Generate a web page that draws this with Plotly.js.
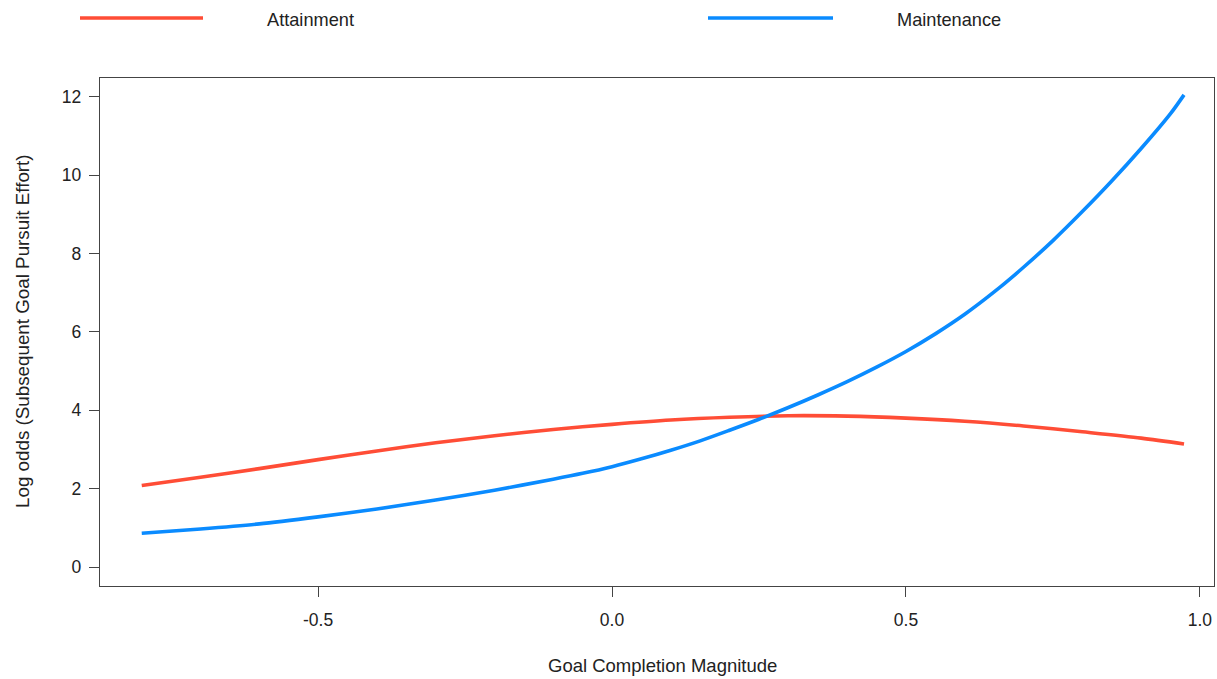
<!DOCTYPE html>
<html>
<head>
<meta charset="utf-8">
<script src="https://cdn.plot.ly/plotly-3.0.1.min.js"></script>
<style>
  html, body { margin: 0; padding: 0; background: #fff; }
  #chart { width: 1217px; height: 679px; }
</style>
</head>
<body>
<div id="chart"></div>
<script>
// Data
const attainmentX = [-0.80, -0.70, -0.60, -0.50, -0.40, -0.30, -0.20, -0.10, 0.00, 0.10, 0.20, 0.30, 0.40, 0.50, 0.60, 0.70, 0.80, 0.90, 0.973];
const attainmentY = [2.08, 2.29, 2.51, 2.74, 2.96, 3.17, 3.35, 3.51, 3.64, 3.75, 3.82, 3.86, 3.85, 3.80, 3.72, 3.60, 3.45, 3.29, 3.14];

const maintenanceX = [-0.80, -0.70, -0.60, -0.50, -0.40, -0.30, -0.20, -0.10, -0.05, 0.00, 0.05, 0.10, 0.15, 0.20, 0.25, 0.30, 0.35, 0.40, 0.45, 0.50, 0.55, 0.60, 0.65, 0.70, 0.75, 0.80, 0.85, 0.90, 0.95, 0.973];
const maintenanceY = [0.86, 0.97, 1.10, 1.28, 1.48, 1.71, 1.96, 2.24, 2.39, 2.56, 2.76, 2.98, 3.22, 3.49, 3.77, 4.07, 4.39, 4.73, 5.10, 5.50, 5.95, 6.45, 7.02, 7.65, 8.33, 9.07, 9.85, 10.68, 11.57, 12.05];

const seriesNames = ['Attainment', 'Maintenance'];
const seriesColors = ['#FF4D36', '#0A8BFF'];

const xTickVals = [-0.5, 0.0, 0.5, 1.0];
const xTickText = ['-0.5', '0.0', '0.5', '1.0'];
const yTickVals = [0, 2, 4, 6, 8, 10, 12];
const yTickText = ['0', '2', '4', '6', '8', '10', '12'];

const xTitle = 'Goal Completion Magnitude';
const yTitle = 'Log odds (Subsequent Goal Pursuit Effort)';

const FONT = 'Liberation Sans, Arial, sans-serif';

const traces = [
  {x: attainmentX, y: attainmentY, name: seriesNames[0], type: 'scatter', mode: 'lines',
   line: {color: seriesColors[0], width: 3.6, shape: 'spline', smoothing: 0.8}, showlegend: false},
  {x: maintenanceX, y: maintenanceY, name: seriesNames[1], type: 'scatter', mode: 'lines',
   line: {color: seriesColors[1], width: 3.6, shape: 'spline', smoothing: 0.8}, showlegend: false}
];

const axisCommon = {
  showgrid: false, zeroline: false,
  showline: true, mirror: true, linecolor: '#444', linewidth: 1.3,
  ticks: 'outside', ticklen: 10, tickwidth: 1, tickcolor: '#444',
  tickfont: {family: FONT, size: 17.5, color: '#222'}
};

const layout = {
  width: 1217, height: 679,
  margin: {l: 100, r: 3, t: 78, b: 93},
  paper_bgcolor: '#fff', plot_bgcolor: '#fff',
  font: {family: FONT, color: '#222'},
  xaxis: Object.assign({}, axisCommon, {
    range: [-0.871, 1.024], tickvals: xTickVals, ticktext: xTickText, ticklabelstandoff: 8
  }),
  yaxis: Object.assign({}, axisCommon, {
    range: [-0.485, 12.48], tickvals: yTickVals, ticktext: yTickText, ticklabelstandoff: 4
  }),
  shapes: [
    {type: 'line', xref: 'paper', yref: 'paper', x0: (80 - 100) / 1114, x1: (203 - 100) / 1114,
     y0: (586 - 18) / 508, y1: (586 - 18) / 508, line: {color: seriesColors[0], width: 3.6}},
    {type: 'line', xref: 'paper', yref: 'paper', x0: (708 - 100) / 1114, x1: (833 - 100) / 1114,
     y0: (586 - 18) / 508, y1: (586 - 18) / 508, line: {color: seriesColors[1], width: 3.6}}
  ],
  annotations: [
    {text: seriesNames[0], xref: 'paper', yref: 'paper', x: (265 - 100) / 1114, y: (586 - 20) / 508,
     xanchor: 'left', yanchor: 'middle', showarrow: false, font: {family: FONT, size: 18.2, color: '#222'}},
    {text: seriesNames[1], xref: 'paper', yref: 'paper', x: (895 - 100) / 1114, y: (586 - 20) / 508,
     xanchor: 'left', yanchor: 'middle', showarrow: false, font: {family: FONT, size: 18.2, color: '#222'}},
    {text: xTitle, xref: 'paper', yref: 'paper', x: (662 - 100) / 1114, y: (586 - 665) / 508,
     xanchor: 'center', yanchor: 'middle', showarrow: false, font: {family: FONT, size: 18.5, color: '#222'}},
    {text: yTitle, xref: 'paper', yref: 'paper', x: (22 - 100) / 1114, y: (586 - 331) / 508,
     xanchor: 'center', yanchor: 'middle', textangle: -90, showarrow: false, font: {family: FONT, size: 18.8, color: '#222'}}
  ]
};

Plotly.newPlot('chart', traces, layout, {displayModeBar: false, staticPlot: true});
</script>
</body>
</html>
